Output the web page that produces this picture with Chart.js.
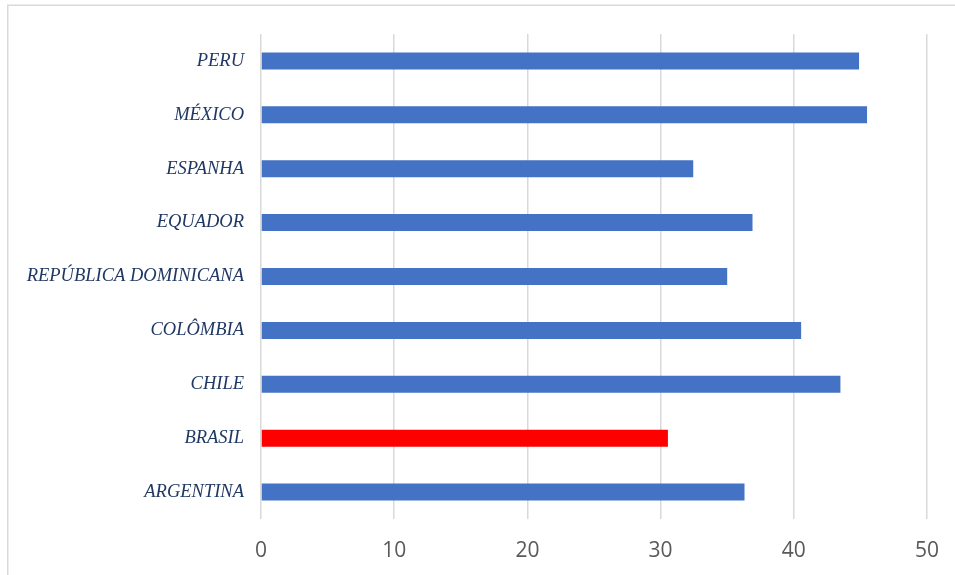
<!DOCTYPE html>
<html>
<head>
<meta charset="utf-8">
<script src="https://cdn.jsdelivr.net/npm/chart.js@4"></script>
<style>
html,body{margin:0;padding:0;background:#fff;}
#wrap{position:relative;width:955px;height:575px;}
canvas{display:block;}
</style>
</head>
<body>
<div id="wrap"><canvas id="c" width="955" height="575"></canvas></div>
<script>
const categories = ["ARGENTINA","BRASIL","CHILE","COLÔMBIA","REPÚBLICA DOMINICANA","EQUADOR","ESPANHA","MÉXICO","PERU"];
const values = [36.3, 30.55, 43.5, 40.55, 35.0, 36.9, 32.45, 45.5, 44.9];
const barColors = ["#4472C4","#FF0000","#4472C4","#4472C4","#4472C4","#4472C4","#4472C4","#4472C4","#4472C4"];
const xTicks = [0,10,20,30,40,50];

const framePlugin = {
  id:'frame',
  beforeDraw(chart){
    const ctx = chart.ctx;
    ctx.save();
    ctx.fillStyle = '#ffffff';
    ctx.fillRect(0,0,chart.width,chart.height);
    ctx.strokeStyle = '#d9d9d9';
    ctx.lineWidth = 1.5;
    ctx.beginPath();
    ctx.moveTo(7.75, chart.height);
    ctx.lineTo(7.75, 5.25);
    ctx.lineTo(chart.width, 5.25);
    ctx.stroke();
    ctx.restore();
  }
};

new Chart(document.getElementById('c'), {
  type:'bar',
  data:{
    labels: categories,
    datasets:[{
      data: values,
      backgroundColor: barColors,
      borderWidth: 0,
      categoryPercentage: 0.63,
      barPercentage: 0.5
    }]
  },
  options:{
    indexAxis:'y',
    responsive:false,
    animation:false,
    devicePixelRatio:1,
    layout:{padding:{left:8, top:34, right:28, bottom:0}},
    plugins:{legend:{display:false}, tooltip:{enabled:false}, title:{display:false}},
    scales:{
      x:{
        min:0, max:50,
        afterBuildTicks(s){ s.ticks = xTicks.map(v=>({value:v})); },
        afterFit(s){ s.height = 56; s.paddingLeft = 0; s.paddingRight = 0; },
        grid:{color:'#d9d9d9', lineWidth:1.5, drawTicks:false},
        border:{display:false},
        ticks:{padding:19, color:'#595959', font:{family:'"Open Sans", "Liberation Sans", sans-serif', size:21}}
      },
      y:{
        reverse:true,
        afterFit(s){ s.width = 253; },
        grid:{display:false, drawTicks:false},
        border:{display:false},
        ticks:{padding:17, color:'#203864', font:{family:'"Liberation Serif", "Times New Roman", serif', size:18.5, style:'italic'}}
      }
    }
  },
  plugins:[framePlugin]
});
</script>
</body>
</html>
